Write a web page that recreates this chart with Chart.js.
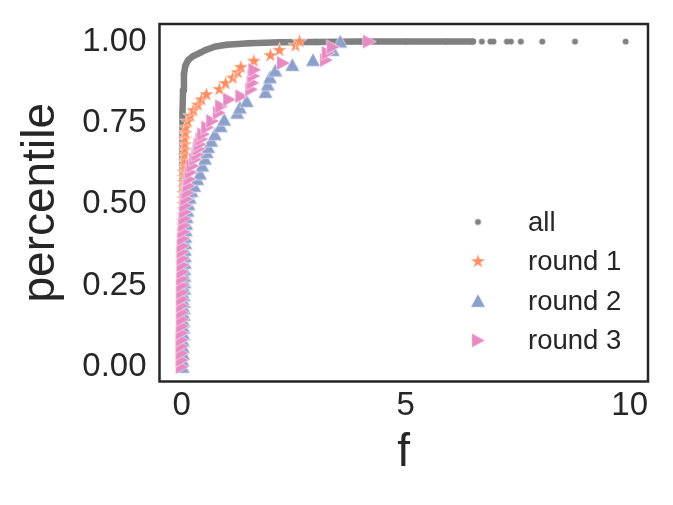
<!DOCTYPE html>
<html>
<head>
<meta charset="utf-8">
<script src="https://cdn.jsdelivr.net/npm/chart.js@4/dist/chart.umd.min.js"></script>
<style>
  html, body { margin: 0; padding: 0; background: #fff; }
  #wrap { width: 673px; height: 505px; }
</style>
</head>
<body>
<div id="wrap"><canvas id="cdf" width="673" height="505"></canvas></div>
<script>
// ---------------------------------------------
// DATA

const seriesLabels = ["all", "round 1", "round 2", "round 3"];

// all: dense part of the curve, then the sparse tail at percentile 1
const allF = [0.00, 0.005, 0.01, 0.015, 0.02, 0.03, 0.05, 0.08, 0.12, 0.16, 0.25, 0.39, 0.55, 0.76, 1.0, 1.5, 2.2, 3.0, 4.0, 5.0, 5.9, 6.5,
              6.7, 6.89, 6.96, 7.26, 7.35, 7.57, 8.05, 8.78, 9.91];
const allP = [0.00, 0.20, 0.45, 0.65, 0.78, 0.85, 0.90, 0.925, 0.937, 0.945, 0.955, 0.964, 0.975, 0.985, 0.99, 0.995, 0.998, 0.999, 1.0, 1.0, 1.0, 1.0,
              1.0, 1.0, 1.0, 1.0, 1.0, 1.0, 1.0, 1.0, 1.0];

const r1F = [0.00, 0.00, 0.00, 0.00, 0.00, 0.00, 0.01, 0.01, 0.01, 0.01, 0.01, 0.01, 0.01, 0.02, 0.02, 0.02, 0.02, 0.02, 0.02, 0.02, 0.02, 0.03,
             0.03, 0.03, 0.03, 0.03, 0.03, 0.04, 0.04, 0.04, 0.04, 0.04, 0.05, 0.05, 0.05, 0.05, 0.06, 0.06, 0.06, 0.07, 0.07, 0.07, 0.08, 0.08,
             0.09, 0.13, 0.19, 0.26, 0.36, 0.44, 0.55, 0.84, 0.98, 1.14, 1.25, 1.32, 1.61, 1.98, 2.18, 2.54, 2.63];
const r1P = [0.017, 0.033, 0.05, 0.067, 0.083, 0.10, 0.117, 0.133, 0.15, 0.167, 0.183, 0.20, 0.217, 0.233, 0.25, 0.267, 0.283, 0.30, 0.317, 0.333, 0.35, 0.367,
             0.383, 0.40, 0.417, 0.433, 0.45, 0.467, 0.483, 0.50, 0.517, 0.533, 0.55, 0.567, 0.583, 0.60, 0.617, 0.633, 0.65, 0.667, 0.683, 0.70, 0.718, 0.718,
             0.735, 0.754, 0.771, 0.788, 0.805, 0.821, 0.837, 0.853, 0.871, 0.888, 0.905, 0.921, 0.94, 0.957, 0.973, 0.987, 1.0];

const r2F = [0.02, 0.02, 0.03, 0.03, 0.03, 0.04, 0.04, 0.04, 0.05, 0.05, 0.05, 0.05, 0.06, 0.06, 0.06, 0.06, 0.07, 0.07, 0.07, 0.08, 0.08, 0.09,
             0.10, 0.11, 0.13, 0.15, 0.18, 0.22, 0.28, 0.35,
             0.41, 0.46, 0.52, 0.56, 0.59, 0.66, 0.74, 0.87, 0.95, 1.24, 1.30, 1.45, 1.87, 1.92, 1.97, 2.09, 2.47, 2.93, 3.37, 3.54];
const r2P = [0.00, 0.02, 0.04, 0.06, 0.08, 0.10, 0.12, 0.14, 0.16, 0.18, 0.20, 0.22, 0.24, 0.26, 0.28, 0.30, 0.32, 0.34, 0.36, 0.38, 0.40, 0.42,
             0.44, 0.46, 0.48, 0.50, 0.52, 0.54, 0.556, 0.577,
             0.594, 0.619, 0.64, 0.66, 0.676, 0.695, 0.715, 0.74, 0.76, 0.781, 0.797, 0.817, 0.845, 0.868, 0.89, 0.911, 0.928, 0.943, 0.974, 1.0];

const r3F = [0.00, 0.00, 0.00, 0.00, 0.00, 0.00, 0.01, 0.01, 0.01, 0.01, 0.01, 0.01, 0.01, 0.01, 0.02, 0.02, 0.02, 0.02, 0.02, 0.03, 0.04, 0.05,
             0.06, 0.07, 0.08, 0.10,
             0.13, 0.15, 0.17, 0.20, 0.24, 0.30, 0.35, 0.38, 0.40, 0.44, 0.48, 0.57, 0.68, 0.83, 0.88, 1.06, 1.33, 1.55, 1.58, 1.60, 1.62, 2.26,
             3.22, 3.26, 3.37, 4.18];
const r3P = [0.00, 0.021, 0.042, 0.063, 0.083, 0.104, 0.125, 0.146, 0.167, 0.188, 0.208, 0.229, 0.25, 0.271, 0.292, 0.313, 0.333, 0.354, 0.372, 0.394, 0.415, 0.435,
             0.456, 0.476, 0.496, 0.516,
             0.536, 0.557, 0.577, 0.598, 0.618, 0.638, 0.653, 0.67, 0.684, 0.70, 0.715, 0.736, 0.756, 0.781, 0.801, 0.822, 0.832, 0.853, 0.873, 0.894, 0.913, 0.934,
             0.943, 0.965, 0.983, 1.0];

const xTicks = [0, 5, 10];
const xTickLabels = ["0", "5", "10"];
const yTicks = [0, 0.25, 0.5, 0.75, 1.0];
const yTickLabels = ["0.00", "0.25", "0.50", "0.75", "1.00"];

// ---------------------------------------------
// MARKERS

const GRAY = "#808080", ORANGE = "#fc8d62", BLUE = "#8da0cb", PINK = "#e78ac3";
const TEXT = "#262626";
const FONT = "'Liberation Sans', Arial, sans-serif";

function makeMarker(shape, color, size) {
  const c = document.createElement("canvas");
  const s = Math.ceil(size * 2 + 3);
  c.width = c.height = s;
  const g = c.getContext("2d");
  const m = s / 2;
  g.beginPath();
  if (shape === "star") {
    for (let k = 0; k < 10; k++) {
      const r = k % 2 ? size * 0.382 : size;
      const t = -Math.PI / 2 + k * Math.PI / 5;
      g.lineTo(m + r * Math.cos(t), m + r * Math.sin(t));
    }
  } else if (shape === "up") {
    g.moveTo(m, m - size); g.lineTo(m + size, m + size * 0.85); g.lineTo(m - size, m + size * 0.85);
  } else if (shape === "right") {
    g.moveTo(m + size, m); g.lineTo(m - size * 0.85, m + size); g.lineTo(m - size * 0.85, m - size);
  } else {
    g.arc(m, m, size, 0, Math.PI * 2);
  }
  g.closePath();
  g.fillStyle = color;
  g.fill();
  if (shape !== "dot") {
    g.lineWidth = 0.6;
    g.strokeStyle = "rgba(255,255,255,0.9)";
    g.stroke();
  }
  return c;
}

const markers = [
  makeMarker("dot", GRAY, 3),
  makeMarker("star", ORANGE, 8),
  makeMarker("up", BLUE, 7.3),
  makeMarker("right", PINK, 7.3)
];

function pts(xs, ys) {
  return xs.map((x, i) => ({ x: x, y: ys[i] }));
}

// ---------------------------------------------
// PLUGINS: frame around the axes and legend inside the plot

const framePlugin = {
  id: "frame",
  afterDatasetsDraw(chart) {
    const { ctx, chartArea: a } = chart;
    ctx.save();
    ctx.strokeStyle = TEXT;
    ctx.lineWidth = 2.5;
    ctx.strokeRect(a.left, a.top, a.right - a.left, a.bottom - a.top);
    ctx.restore();
  }
};

const insideLegend = {
  id: "insideLegend",
  afterDraw(chart) {
    const { ctx, chartArea: a } = chart;
    ctx.save();
    ctx.font = "27.5px " + FONT;
    ctx.fillStyle = TEXT;
    ctx.textBaseline = "middle";
    ctx.textAlign = "left";
    chart.data.datasets.forEach((ds, i) => {
      const y = a.bottom - 159.5 + i * 39.5;
      const mk = markers[i];
      ctx.drawImage(mk, a.right - 170 - mk.width / 2, y - mk.height / 2);
      ctx.fillText(ds.label, a.right - 120, y + 1);
    });
    ctx.restore();
  }
};

// ---------------------------------------------
// CHART

new Chart(document.getElementById("cdf"), {
  type: "scatter",
  data: {
    datasets: [{
        label: seriesLabels[0],
        data: pts(allF, allP),
        showLine: true,
        borderColor: GRAY,
        borderWidth: 6.5,
        borderCapStyle: "round",
        borderJoinStyle: "round",
        tension: 0,
        segment: {
          borderColor: c => (c.p1.parsed.x > 6.55 ? "rgba(0,0,0,0)" : undefined)
        },
        pointStyle: markers[0],
        pointRadius: 3,
        order: 4
      }, {
        label: seriesLabels[1],
        data: pts(r1F, r1P),
        pointStyle: markers[1],
        order: 3
      }, {
        label: seriesLabels[2],
        data: pts(r2F, r2P),
        pointStyle: markers[2],
        order: 2
      }, {
        label: seriesLabels[3],
        data: pts(r3F, r3P),
        pointStyle: markers[3],
        order: 1
      }]
  },
  options: {
    responsive: false,
    animation: false,
    layout: { padding: { left: 0, right: 25, top: 24, bottom: 0 } },
    plugins: {
      legend: { display: false },
      tooltip: { enabled: false },
      title: { display: false }
    },
    scales: {
      x: {
        type: "linear",
        min: -0.4955,
        max: 10.41,
        grid: { display: false, drawTicks: false },
        border: { display: false },
        afterBuildTicks: s => { s.ticks = xTicks.map(v => ({ value: v })); },
        afterFit: s => { s.height = 123.5; s.paddingLeft = 0; s.paddingRight = 0; },
        ticks: {
          padding: 5,
          color: TEXT,
          font: { family: FONT, size: 33 },
          callback: v => xTickLabels[xTicks.indexOf(v)]
        },
        title: {
          display: true,
          text: "f",
          color: TEXT,
          font: { family: FONT, size: 46 },
          padding: { top: 0, bottom: 24 }
        }
      },
      y: {
        type: "linear",
        min: -0.045,
        max: 1.054,
        grid: { display: false, drawTicks: false },
        border: { display: false },
        afterBuildTicks: s => { s.ticks = yTicks.map(v => ({ value: v })); },
        afterFit: s => { s.width = 159.5; s.paddingTop = 0; s.paddingBottom = 0; },
        ticks: {
          padding: 13,
          color: TEXT,
          font: { family: FONT, size: 33 },
          callback: v => yTickLabels[yTicks.indexOf(v)]
        },
        title: {
          display: true,
          text: "percentile",
          color: TEXT,
          font: { family: FONT, size: 46 },
          padding: { top: 14, bottom: 0 }
        }
      }
    }
  },
  plugins: [framePlugin, insideLegend]
});
</script>
</body>
</html>
